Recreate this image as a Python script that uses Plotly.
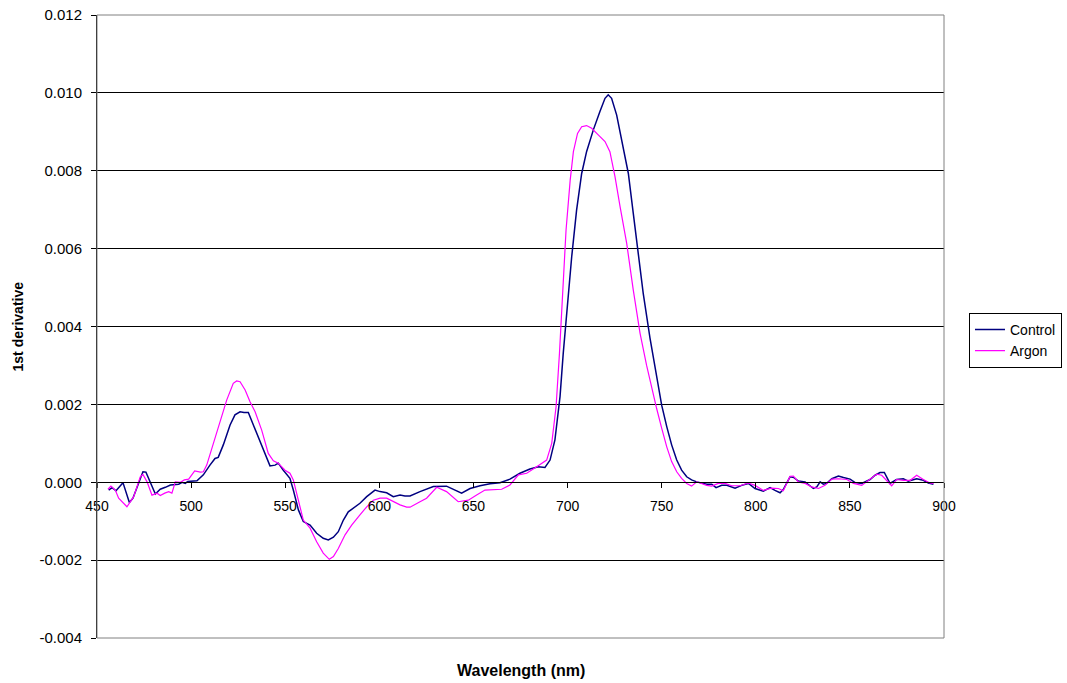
import plotly.graph_objects as go

# First-derivative reflectance spectra (wavelength in nm)
wl_control = [456.2, 458.0, 460.1, 463.8, 467.2, 469.1, 474.4, 476.0, 481.0, 483.6,
              486.3, 489.0, 493.4, 495.2, 496.9, 498.2, 503.1, 506.5, 510.0, 512.7,
              514.4, 517.1, 520.7, 523.3, 526.0, 528.1, 530.4, 534.8, 538.4, 541.9,
              544.6, 546.3, 549.0, 550.8, 552.5, 554.3, 557.0, 559.6, 563.2, 566.7,
              570.2, 572.9, 575.6, 578.2, 580.9, 583.5, 587.1, 589.7, 593.3, 597.7,
              600.4, 603.9, 607.4, 611.0, 613.6, 616.3, 621.6, 628.7, 635.7, 638.4,
              643.7, 648.2, 653.5, 658.8, 664.1, 669.4, 674.7, 680.0, 684.5, 688.0,
              690.7, 693.3, 696.0, 697.7, 699.5, 702.2, 704.8, 707.5, 710.1, 713.7,
              717.2, 719.9, 721.6, 723.4, 726.1, 728.7, 732.3, 734.9, 737.6, 740.2,
              743.8, 746.5, 748.2, 750.0, 752.7, 755.3, 758.0, 760.6, 763.3, 765.9,
              768.6, 771.3, 774.0, 776.6, 778.9, 781.9, 784.6, 789.0, 792.5, 796.1,
              799.6, 804.0, 807.6, 810.2, 812.9, 814.6, 818.2, 820.3, 822.6, 826.2,
              830.6, 832.4, 834.2, 835.9, 837.7, 840.4, 843.9, 846.6, 850.1, 852.8,
              856.3, 860.7, 863.4, 866.0, 868.3, 871.3, 874.8, 878.4, 881.0, 885.5,
              889.0, 891.7, 894.4]
d1_control = [-0.00020, -0.00014, -0.00022, -0.00001, -0.00052, -0.00041, 0.00027, 0.00026, -0.00030, -0.00018,
              -0.00013, -0.00007, -0.00005, 0.00000, -0.00003, 0.00002, 0.00004, 0.00019, 0.00044, 0.00061,
              0.00064, 0.00096, 0.00147, 0.00173, 0.00181, 0.00179, 0.00179, 0.00126, 0.00083, 0.00042,
              0.00044, 0.00049, 0.00031, 0.00019, 0.00010, -0.00020, -0.00071, -0.00101, -0.00110, -0.00131,
              -0.00144, -0.00148, -0.00141, -0.00127, -0.00097, -0.00076, -0.00063, -0.00054, -0.00037, -0.00020,
              -0.00024, -0.00027, -0.00037, -0.00033, -0.00035, -0.00035, -0.00024, -0.00011, -0.00010, -0.00016,
              -0.00028, -0.00016, -0.00009, -0.00004, -0.00001, 0.00008, 0.00023, 0.00034, 0.00040, 0.00038,
              0.00057, 0.00109, 0.00220, 0.00331, 0.00434, 0.00579, 0.00699, 0.00793, 0.00849, 0.00905,
              0.00952, 0.00986, 0.00995, 0.00986, 0.00943, 0.00879, 0.00793, 0.00691, 0.00579, 0.00485,
              0.00370, 0.00290, 0.00240, 0.00198, 0.00143, 0.00096, 0.00057, 0.00031, 0.00014, 0.00006,
              0.00001, -0.00003, -0.00005, -0.00005, -0.00014, -0.00008, -0.00008, -0.00015, -0.00008, -0.00003,
              -0.00016, -0.00023, -0.00014, -0.00021, -0.00027, -0.00019, 0.00014, 0.00012, 0.00003, 0.00001,
              -0.00016, -0.00012, 0.00001, -0.00005, -0.00003, 0.00009, 0.00016, 0.00012, 0.00008, -0.00001,
              -0.00003, 0.00007, 0.00018, 0.00025, 0.00025, -0.00003, 0.00007, 0.00009, 0.00003, 0.00009,
              0.00005, -0.00002, -0.00005]

wl_argon = [455.8, 457.4, 459.7, 461.5, 465.9, 469.5, 473.0, 474.4, 476.6, 479.2,
            481.9, 483.6, 486.0, 488.1, 489.8, 491.6, 494.3, 496.4, 498.7, 501.9,
            504.9, 506.5, 508.3, 511.8, 515.4, 518.9, 522.4, 524.2, 526.0, 528.7,
            531.3, 534.0, 537.5, 541.0, 543.7, 546.3, 549.9, 552.5, 554.3, 557.0,
            559.6, 563.2, 566.7, 570.2, 573.4, 575.6, 578.2, 581.8, 585.3, 589.7,
            593.3, 596.8, 600.4, 603.9, 607.4, 611.0, 614.5, 616.3, 621.6, 625.1,
            630.5, 635.7, 641.9, 647.3, 651.7, 656.1, 665.0, 669.4, 673.9, 678.3,
            683.6, 688.9, 691.6, 693.9, 695.7, 697.5, 699.2, 701.4, 703.1, 705.3,
            707.5, 710.1, 712.8, 716.3, 719.9, 722.5, 725.2, 727.9, 731.4, 734.9,
            738.5, 742.0, 745.0, 747.3, 750.0, 752.7, 755.3, 758.0, 760.6, 763.3,
            765.9, 768.6, 770.4, 773.9, 776.6, 780.1, 783.7, 787.2, 791.6, 796.1,
            799.6, 804.0, 808.4, 812.0, 814.6, 818.2, 820.0, 822.6, 826.2, 829.7,
            833.3, 836.8, 840.4, 843.9, 848.4, 851.9, 856.3, 860.7, 864.3, 866.9,
            872.2, 874.8, 878.4, 882.1, 885.5, 889.0, 892.5, 894.4]
d1_argon = [-0.00018, -0.00010, -0.00020, -0.00041, -0.00063, -0.00037, 0.00014, 0.00020, 0.00001, -0.00033,
            -0.00028, -0.00034, -0.00028, -0.00024, -0.00028, 0.00001, 0.00000, 0.00006, 0.00008, 0.00029,
            0.00026, 0.00027, 0.00044, 0.00100, 0.00151, 0.00211, 0.00254, 0.00260, 0.00258, 0.00237,
            0.00207, 0.00181, 0.00134, 0.00074, 0.00055, 0.00049, 0.00031, 0.00023, 0.00006, -0.00046,
            -0.00097, -0.00118, -0.00153, -0.00182, -0.00198, -0.00191, -0.00170, -0.00135, -0.00110, -0.00084,
            -0.00063, -0.00046, -0.00041, -0.00041, -0.00050, -0.00058, -0.00064, -0.00064, -0.00050, -0.00041,
            -0.00013, -0.00024, -0.00050, -0.00046, -0.00033, -0.00020, -0.00018, -0.00007, 0.00019, 0.00023,
            0.00040, 0.00057, 0.00100, 0.00194, 0.00331, 0.00502, 0.00648, 0.00776, 0.00849, 0.00896,
            0.00913, 0.00916, 0.00909, 0.00892, 0.00875, 0.00849, 0.00785, 0.00708, 0.00614, 0.00494,
            0.00383, 0.00300, 0.00235, 0.00190, 0.00139, 0.00091, 0.00053, 0.00027, 0.00010, -0.00003,
            -0.00010, 0.00001, -0.00002, -0.00008, -0.00010, -0.00003, -0.00003, -0.00009, -0.00009, -0.00002,
            -0.00008, -0.00021, -0.00015, -0.00016, -0.00022, 0.00015, 0.00016, 0.00001, -0.00003, -0.00012,
            -0.00016, -0.00008, 0.00008, 0.00009, 0.00007, -0.00003, -0.00008, 0.00007, 0.00021, 0.00018,
            -0.00009, 0.00007, 0.00005, 0.00005, 0.00018, 0.00007, -0.00002, -0.00003]

y_ticks = [-0.004, -0.002, 0.000, 0.002, 0.004, 0.006, 0.008, 0.010, 0.012]
y_tick_text = ["-0.004", "-0.002", "0.000", "0.002", "0.004", "0.006", "0.008", "0.010", "0.012"]
x_ticks = [450, 500, 550, 600, 650, 700, 750, 800, 850, 900]

FONT = "Liberation Sans, Arial, sans-serif"
Y_MIN, Y_MAX = -0.004, 0.012

fig = go.Figure()
fig.add_trace(go.Scatter(x=wl_control, y=d1_control, mode="lines", name="Control",
                         line=dict(color="#000080", width=1.5)))
fig.add_trace(go.Scatter(x=wl_argon, y=d1_argon, mode="lines", name="Argon",
                         line=dict(color="#FF00FF", width=1.2)))

fig.update_layout(
    width=1067, height=683,
    margin=dict(l=97, r=123, t=15, b=45, autoexpand=False),
    paper_bgcolor="white", plot_bgcolor="white",
    font=dict(family=FONT, size=13, color="black"),
    showlegend=True,
    legend=dict(x=1.0295, y=0.522, xanchor="left", yanchor="top",
                bordercolor="black", borderwidth=1, bgcolor="white",
                font=dict(family=FONT, size=14, color="black"),
                tracegroupgap=0),
    xaxis=dict(range=[450, 900], tickvals=x_ticks, anchor="free",
               position=(0 - Y_MIN) / (Y_MAX - Y_MIN),
               showline=True, linecolor="black", linewidth=1,
               ticks="outside", ticklen=5, tickcolor="black",
               ticklabelstandoff=6,
               showgrid=False, zeroline=False,
               tickfont=dict(family=FONT, size=14, color="black")),
    yaxis=dict(range=[Y_MIN, Y_MAX], tickvals=y_ticks, ticktext=y_tick_text,
               showline=True, linecolor="black", linewidth=1,
               ticks="outside", ticklen=5, tickcolor="black",
               ticklabelstandoff=6,
               showgrid=True, gridcolor="black", gridwidth=1,
               zeroline=False,
               tickfont=dict(family=FONT, size=15, color="black")),
)

# plot-area frame
fig.add_shape(type="rect", xref="paper", yref="paper", x0=0, x1=1, y0=0, y1=1,
              line=dict(color="#808080", width=1), layer="above")

fig.add_annotation(text="Wavelength (nm)", xref="paper", yref="paper",
                   x=0.5, y=-0.0514, xanchor="center", yanchor="middle",
                   showarrow=False, font=dict(family=FONT, size=16, weight="bold"))
fig.add_annotation(text="1st derivative", xref="paper", yref="paper",
                   x=-0.0933, y=0.5, xanchor="center", yanchor="middle",
                   textangle=-90, showarrow=False,
                   font=dict(family=FONT, size=14, weight="bold"))

fig.write_html("out.html")
